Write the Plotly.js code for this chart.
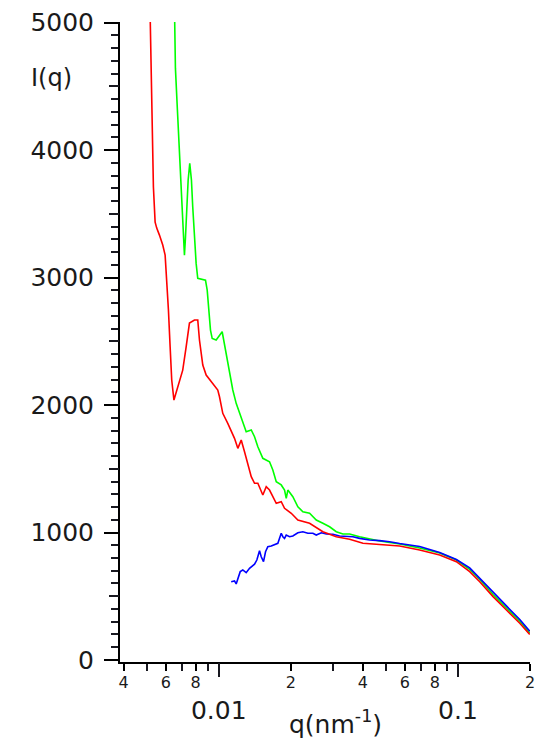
<!DOCTYPE html>
<html>
<head>
<meta charset="utf-8">
<script src="https://cdn.plot.ly/plotly-3.0.1.min.js"></script>
<style>html,body{margin:0;padding:0;background:#fff;}#chart{width:539px;height:743px;}</style>
</head>
<body>
<div id="chart"></div>
<script>
// ---- data ----
const redQ = [0.00516,0.005207,0.005244,0.00533,0.005418,0.005503,0.005648,0.005831,0.005966,0.006059,0.006159,0.006261,0.006357,0.006494,0.006634,0.006847,0.007068,0.007304,0.00754,0.007914,0.008168,0.008303,0.008573,0.008857,0.009293,0.009594,0.009904,0.010068,0.010392,0.010905,0.011634,0.012012,0.012411,0.012811,0.013225,0.013667,0.014109,0.014564,0.01528,0.015788,0.016298,0.016825,0.017387,0.018243,0.018832,0.02009,0.02141,0.023965,0.027236,0.030987,0.035231,0.04005,0.0443,0.04856,0.0526,0.05703,0.06915,0.08383,0.09847,0.11194,0.12327,0.14012,0.15939,0.18124,0.1995];
const redI = [5100,4745,4235,3710,3435,3388,3333,3255,3176,3004,2745,2455,2196,2039,2102,2196,2274,2457,2643,2667,2667,2510,2314,2235,2188,2157,2118,2065,1935,1856,1739,1660,1725,1634,1529,1438,1386,1386,1294,1359,1333,1281,1229,1242,1190,1151,1098,1072,1006,967,947,915,908,902,899,894,863,824,771,693,614,497,392,288,200];

const greenQ = [0.006524,0.006588,0.006715,0.006847,0.00696,0.007068,0.007185,0.007255,0.007345,0.007446,0.007562,0.007686,0.007782,0.00791,0.008041,0.008166,0.008799,0.008945,0.009083,0.009232,0.009384,0.009752,0.010332,0.010493,0.010739,0.01101,0.011268,0.011444,0.011823,0.012205,0.0126,0.013019,0.013667,0.014109,0.014564,0.01528,0.016298,0.016825,0.017387,0.018243,0.018832,0.019143,0.019441,0.020399,0.02141,0.022464,0.023965,0.025558,0.027236,0.029052,0.030987,0.03303,0.035231,0.03879,0.04703,0.05703,0.06915,0.08383,0.09847,0.11194,0.12327,0.14012,0.15939,0.18124,0.1995];
const greenI = [5150,4641,4314,3987,3673,3347,3176,3310,3529,3765,3896,3765,3555,3320,3111,2994,2980,2902,2745,2588,2523,2510,2575,2510,2405,2300,2209,2118,2013,1935,1856,1791,1804,1751,1673,1582,1555,1490,1398,1373,1333,1268,1333,1281,1202,1163,1151,1098,1072,1045,1006,988,988,967,933,910,878,839,784,710,631,514,408,304,212];

const blueQ = [0.011268,0.011634,0.011823,0.012012,0.012292,0.0126,0.013019,0.013444,0.014109,0.014424,0.014803,0.015047,0.015382,0.015683,0.016032,0.016565,0.017103,0.017658,0.018243,0.018527,0.018832,0.019143,0.019762,0.020399,0.02141,0.022464,0.023573,0.024735,0.025558,0.026823,0.028144,0.029992,0.031989,0.034128,0.036372,0.03879,0.04271,0.04703,0.05178,0.05703,0.06915,0.08383,0.09847,0.11194,0.12327,0.14012,0.15939,0.18124,0.1995];
const blueI = [614,620,596,633,693,706,685,719,751,784,857,810,771,849,889,894,902,915,994,967,954,980,967,973,998,1006,994,994,980,998,988,986,973,967,967,954,941,936,928,914,890,843,788,722,639,529,424,318,225];

const xLabelVals = [0.004,0.006,0.008,0.02,0.04,0.06,0.08,0.2];
const xLabelText = ['4','6','8','2','4','6','8','2'];
const xMinorVals = [0.005,0.007,0.009,0.03,0.05,0.07,0.09];
const xDecadeVals = [0.01,0.1];
const xDecadeText = ['0.01','0.1'];
const yHalfVals = [500,1500,2500,3500,4500];

const xRange = [Math.log10(0.003864), Math.log10(0.2)];
const yRange = [-16, 5005];
const FONT = 'DejaVu Sans, Verdana, sans-serif';
const TXT = '#1a1a1a';
const TICK = '#000000';
const TICK2 = 'rgb(24,24,32)';

const line = (c) => ({color:c, width:1.6});
const traces = [
  {x:greenQ, y:greenI, type:'scatter', mode:'lines', line:line('#00ff00'), hoverinfo:'skip'},
  {x:blueQ, y:blueI, type:'scatter', mode:'lines', line:line('#0000ff'), hoverinfo:'skip'},
  {x:redQ, y:redI, type:'scatter', mode:'lines', line:line('#ff0000'), hoverinfo:'skip'},
  {x:[], y:[], type:'scatter', mode:'lines', xaxis:'x2', yaxis:'y2', hoverinfo:'skip'}
];

const layout = {
  width:539, height:743,
  margin:{l:120, r:8.5, t:22, b:81, pad:0},
  paper_bgcolor:'#ffffff', plot_bgcolor:'#ffffff',
  showlegend:false,
  font:{family:FONT, color:TXT},
  xaxis:{type:'log', range:xRange, autorange:false,
    tickmode:'array', tickvals:xLabelVals, ticktext:xLabelText,
    ticks:'outside', ticklen:7, tickwidth:2, tickcolor:TICK,
    showline:true, linecolor:TICK, linewidth:2, showgrid:false, zeroline:false,
    tickfont:{family:FONT, size:16, color:TXT}, ticklabelstandoff:-2,
    minor:{tickmode:'array', tickvals:xMinorVals, ticks:'outside', ticklen:7, tickwidth:2, tickcolor:TICK2, showgrid:false}
  },
  xaxis2:{type:'log', overlaying:'x', anchor:'y2', side:'bottom', range:xRange, autorange:false,
    tickmode:'array', tickvals:xDecadeVals, ticktext:xDecadeText,
    ticks:'outside', ticklen:14, tickwidth:2, tickcolor:TICK2,
    showline:false, showgrid:false, zeroline:false,
    tickfont:{family:FONT, size:25, color:TXT}, ticklabelstandoff:12
  },
  yaxis:{range:yRange, autorange:false,
    tickmode:'linear', tick0:0, dtick:1000,
    ticks:'outside', ticklen:14, tickwidth:2, tickcolor:TICK,
    showline:true, linecolor:TICK, linewidth:2, showgrid:false, zeroline:false,
    tickfont:{family:FONT, size:25, color:TXT}, ticklabelstandoff:5,
    minor:{tick0:0, dtick:100, ticks:'outside', ticklen:7, tickwidth:2, tickcolor:TICK2, showgrid:false}
  },
  yaxis2:{overlaying:'y', anchor:'x2', side:'left', range:yRange, autorange:false,
    tickmode:'array', tickvals:yHalfVals, showticklabels:false,
    ticks:'outside', ticklen:10, tickwidth:2, tickcolor:TICK2,
    showline:false, showgrid:false, zeroline:false
  },
  annotations:[
    {text:'I(q)', xref:'paper', yref:'paper', x:-0.168, y:0.9125, xanchor:'center', yanchor:'middle',
     showarrow:false, font:{family:FONT, size:24, color:TXT}},
    {text:'q(nm<sup>-1</sup>)', xref:'paper', yref:'paper', x:0.526, y:-0.094, xanchor:'center', yanchor:'middle',
     showarrow:false, font:{family:FONT, size:25, color:TXT}}
  ]
};

Plotly.newPlot('chart', traces, layout, {staticPlot:true, displayModeBar:false});
</script>
</body>
</html>
